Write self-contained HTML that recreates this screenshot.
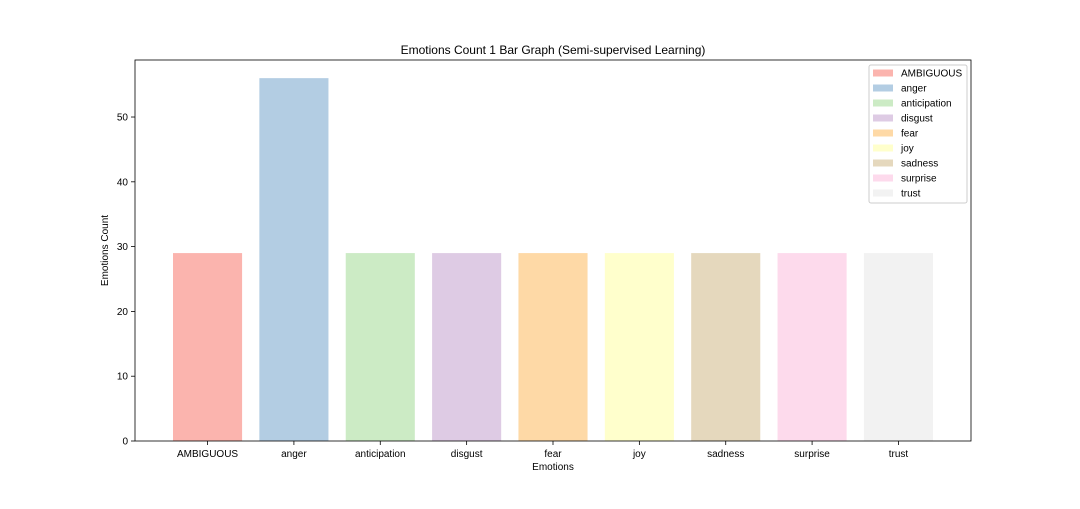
<!DOCTYPE html>
<html><head><meta charset="utf-8"><style>
body{margin:0;background:#fff;font-family:"Liberation Sans","DejaVu Sans",sans-serif;}
svg text{font-family:"Liberation Sans","DejaVu Sans",sans-serif;}
</style></head><body>
<svg id="c" width="1080" height="504" xmlns="http://www.w3.org/2000/svg"></svg>
<script>
const categories=["AMBIGUOUS","anger","anticipation","disgust","fear","joy","sadness","surprise","trust"];
const counts=[29,56,29,29,29,29,29,29,29];
const yTicks=[0,10,20,30,40,50];
const colors=["#fbb4ae","#b3cde3","#ccebc5","#decbe4","#fed9a6","#ffffcc","#e5d8bd","#fddaec","#f2f2f2"];
const L=135,R=971,T=60,B=441;
const ymax=58.8;
const n=categories.length;
const xmin=-0.4-0.044*(n-0.2)/0.88*0.88, xr=(n-1+0.8)*1.1;
const x0=-0.4-(n-1+0.8)*0.05;
const X=v=>L+(v-x0)/xr*(R-L);
const Y=v=>B-v/ymax*(B-T);
const svg=document.getElementById('c');
const NS="http://www.w3.org/2000/svg";
function add(tag,attrs,txt){const e=document.createElementNS(NS,tag);for(const k in attrs)e.setAttribute(k,attrs[k]);if(txt!==undefined)e.textContent=txt;svg.appendChild(e);return e;}
categories.forEach((c,i)=>{
 const r=add('rect',{x:X(i-0.4),y:Y(counts[i]),width:X(i+0.4)-X(i-0.4),height:Y(0)-Y(counts[i]),fill:colors[i]});
 
 
 const tk=add('line',{x1:X(i),x2:X(i),y1:B,y2:B+4,stroke:'#000','stroke-width':0.8});
 
 
 const t=add('text',{x:X(i),y:B+16,'font-size':10,'text-anchor':'middle'},c);
 
 
});
yTicks.forEach(v=>{
 const tk=add('line',{x1:L-4,x2:L,y1:Y(v),y2:Y(v),stroke:'#000','stroke-width':0.8});
 
 
 const t=add('text',{x:L-7,y:Y(v)+3.5,'font-size':10,'text-anchor':'end'},v);
 
 
});
const frame=add('rect',{x:L,y:T,width:R-L,height:B-T,fill:'none',stroke:'#000','stroke-width':0.8});


const title=add('text',{x:(L+R)/2,y:54,'font-size':12,'text-anchor':'middle'},'Emotions Count 1 Bar Graph (Semi-supervised Learning)');


const xt=add('text',{x:(L+R)/2,y:470,'font-size':10,'text-anchor':'middle'},'Emotions');


const yt=add('text',{x:108,y:(T+B)/2,'font-size':10,'text-anchor':'middle',transform:`rotate(-90 108 ${(T+B)/2})`},'Emotions Count');


const lg=add('rect',{x:869,y:65,width:98,height:138,fill:'#fff',stroke:'#ccc','stroke-width':1,rx:2});


categories.forEach((c,i)=>{
 const y=73+i*15;
 const s=add('rect',{x:873,y:y-3.5,width:20,height:7,fill:colors[i]});
 
 
 const t=add('text',{x:901,y:y+3.5,'font-size':10},c);
 
 
});
</script>
</body></html>
